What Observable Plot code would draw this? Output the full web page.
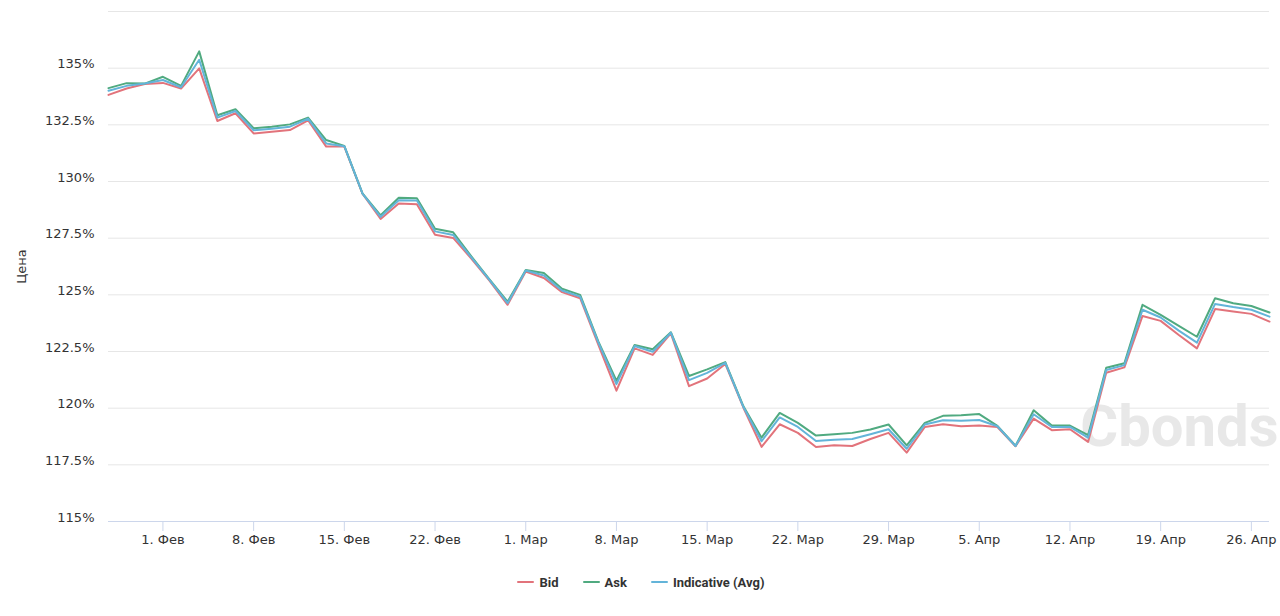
<!DOCTYPE html>
<html><head><meta charset="utf-8">
<script src="https://cdn.jsdelivr.net/npm/d3@7"></script>
<script src="https://cdn.jsdelivr.net/npm/@observablehq/plot@0.6"></script>
<style>
body{margin:0;background:#fff;}
#legend{display:flex;justify-content:center;align-items:center;margin-top:13px;height:18px;font:bold 13px Roboto, sans-serif;color:#333;padding-left:2px;}
.item{display:flex;align-items:center;margin:0 12px;}
.sym{display:inline-block;width:17px;height:2px;margin-right:5px;border-radius:1px;}
</style>
</head><body><div id="chart"></div><div id="legend"></div>
<script>
const dates = ["2021-01-27","2021-01-28","2021-01-29",
"2021-02-01","2021-02-02","2021-02-03","2021-02-04","2021-02-05",
"2021-02-08","2021-02-09","2021-02-10","2021-02-11","2021-02-12",
"2021-02-15","2021-02-16","2021-02-17","2021-02-18","2021-02-19",
"2021-02-22","2021-02-23","2021-02-24","2021-02-25","2021-02-26",
"2021-03-01","2021-03-02","2021-03-03","2021-03-04","2021-03-05",
"2021-03-08","2021-03-09","2021-03-10","2021-03-11","2021-03-12",
"2021-03-15","2021-03-16","2021-03-17","2021-03-18","2021-03-19",
"2021-03-22","2021-03-23","2021-03-24","2021-03-25","2021-03-26",
"2021-03-29","2021-03-30","2021-03-31","2021-04-01","2021-04-02",
"2021-04-05","2021-04-06","2021-04-07","2021-04-08","2021-04-09",
"2021-04-12","2021-04-13","2021-04-14","2021-04-15","2021-04-16",
"2021-04-19","2021-04-20","2021-04-21","2021-04-22","2021-04-23",
"2021-04-26","2021-04-27"];

const bid = [133.82,134.10,134.30,134.35,134.10,134.99,132.67,133.01,132.12,132.20,132.27,132.70,131.54,131.54,129.46,128.35,129.03,129.00,127.65,127.51,126.60,125.63,124.56,126.03,125.74,125.12,124.85,122.80,120.77,122.64,122.35,123.30,120.97,121.31,121.95,120.02,118.29,119.29,118.91,118.29,118.36,118.33,118.64,118.91,118.04,119.17,119.29,119.20,119.23,119.17,118.32,119.54,119.03,119.07,118.51,121.56,121.80,124.07,123.85,123.23,122.64,124.37,124.26,124.16,123.82];
const ask = [134.12,134.34,134.32,134.62,134.22,135.74,132.92,133.19,132.35,132.42,132.52,132.82,131.83,131.57,129.48,128.51,129.28,129.26,127.92,127.76,126.70,125.68,124.70,126.10,125.96,125.27,125.00,122.95,121.21,122.79,122.60,123.35,121.42,121.71,122.03,120.08,118.70,119.79,119.35,118.79,118.85,118.91,119.06,119.28,118.36,119.35,119.66,119.69,119.74,119.22,118.34,119.91,119.23,119.23,118.81,121.78,121.98,124.56,124.12,123.63,123.15,124.85,124.63,124.51,124.22];
const avg = [134.00,134.22,134.32,134.48,134.16,135.37,132.82,133.11,132.26,132.33,132.42,132.77,131.68,131.56,129.47,128.44,129.17,129.16,127.80,127.64,126.65,125.66,124.63,126.07,125.85,125.19,124.92,122.90,121.06,122.74,122.49,123.33,121.24,121.56,122.00,120.05,118.54,119.59,119.17,118.55,118.61,118.64,118.85,119.07,118.21,119.28,119.47,119.44,119.48,119.20,118.33,119.73,119.17,119.17,118.70,121.68,121.90,124.34,124.00,123.42,122.89,124.60,124.46,124.34,124.04];

const tickDates = ["2021-02-01","2021-02-08","2021-02-15","2021-02-22","2021-03-01","2021-03-08","2021-03-15","2021-03-22","2021-03-29","2021-04-05","2021-04-12","2021-04-19","2021-04-26"];
const tickLabels = ["1. Фев","8. Фев","15. Фев","22. Фев","1. Мар","8. Мар","15. Мар","22. Мар","29. Мар","5. Апр","12. Апр","19. Апр","26. Апр"];
const yTicks = [115,117.5,120,122.5,125,127.5,130,132.5,135];
const gridTicks = [115,117.5,120,122.5,125,127.5,130,132.5,135,137.5];
const seriesNames = ["Bid","Ask","Indicative (Avg)"];
const colors = ["#e2737b","#50aa80","#63b4d9"];
const yTitle = "Цена";
const watermark = "Cbonds";

const rows = [];
[bid, ask, avg].forEach((vals, s) => vals.forEach((v, i) => rows.push({i, date: dates[i], v, series: seriesNames[s]})));
const tickIdx = tickDates.map(d => dates.indexOf(d));

const chart = Plot.plot({
  width: 1280, height: 560,
  marginLeft: 108, marginRight: 11, marginTop: 11, marginBottom: 39,
  style: {fontFamily: "'DejaVu Sans', sans-serif", fontSize: "13px", color: "#333", background: "#fff"},
  x: {domain: [0, dates.length - 1], axis: null},
  y: {domain: [115, 137.5], axis: null},
  color: {domain: seriesNames, range: colors},
  marks: [
    Plot.ruleY(gridTicks, {stroke: "#e6e6e6", strokeWidth: 1}),
    Plot.text([watermark], {frameAnchor: "bottom-right", textAnchor: "end", lineAnchor: "middle", dx: 9, dy: -94, fontSize: 58, fontWeight: "bold", fontFamily: "Roboto, sans-serif", fill: "#e8e8e8"}),
    Plot.ruleY([115], {stroke: "#ccd6eb"}),
    Plot.axisX(tickIdx, {tickSize: 10, tickPadding: 3, stroke: "#ccd6eb", strokeOpacity: 1, fill: "#333", tickFormat: d => tickLabels[tickIdx.indexOf(d)], label: null}),
    Plot.axisY(yTicks, {tickSize: 0, tickPadding: 14, dy: -4, fill: "#333", tickFormat: d => d + "%", label: null}),
    Plot.text([yTitle], {frameAnchor: "left", textAnchor: "middle", rotate: -90, dx: -87, fill: "#333", fontSize: 13}),
    Plot.line(rows, {x: "i", y: "v", z: "series", stroke: "series", strokeWidth: 2, strokeLinejoin: "round"})
  ]
});
document.getElementById("chart").append(chart);

const legend = document.getElementById("legend");
seriesNames.forEach((name, k) => {
  const it = document.createElement("div");
  it.className = "item";
  const sym = document.createElement("span");
  sym.className = "sym";
  sym.style.background = colors[k];
  it.append(sym, document.createTextNode(name));
  legend.append(it);
});
</script>
</body></html>
